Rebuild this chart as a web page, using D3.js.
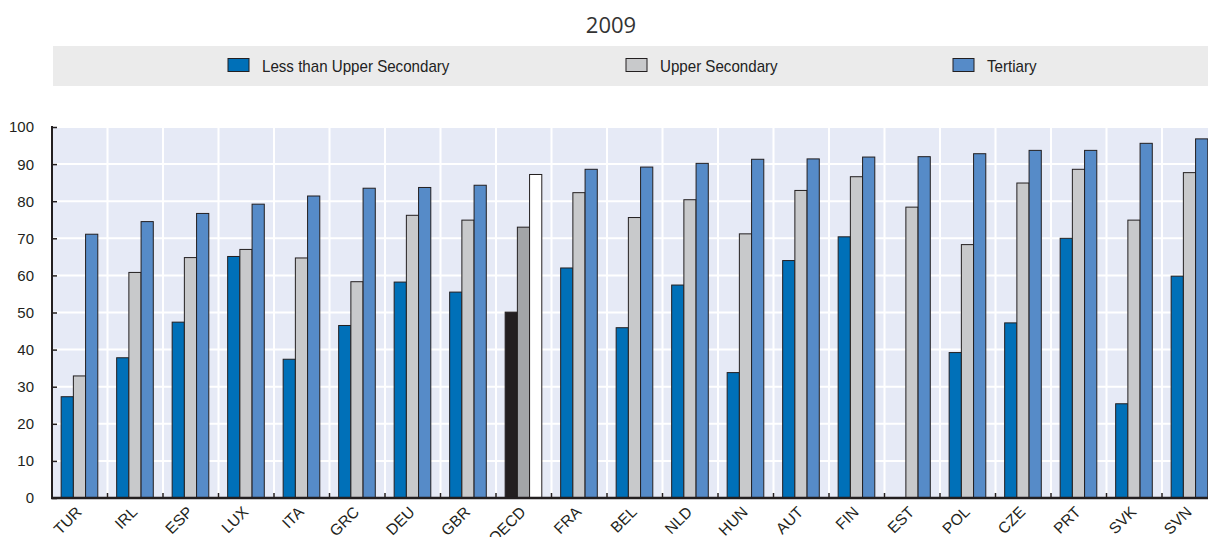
<!DOCTYPE html>
<html>
<head>
<meta charset="utf-8">
<script src="https://cdn.jsdelivr.net/npm/d3@7"></script>
<style>
  html, body { margin: 0; padding: 0; background: #fff; }
  svg { display: block; }
  text { font-family: "Liberation Sans", Arial, Helvetica, sans-serif; fill: #231f20; }
</style>
</head>
<body>
<svg id="chart" width="1208" height="537"></svg>
<script>
const title = "2009";
const categories = ["TUR","IRL","ESP","LUX","ITA","GRC","DEU","GBR","OECD","FRA","BEL","NLD","HUN","AUT","FIN","EST","POL","CZE","PRT","SVK","SVN"];
const seriesNames = ["Less than Upper Secondary","Upper Secondary","Tertiary"];
const lessThanUpperSecondary = [27.3,37.8,47.4,65.1,37.4,46.5,58.2,55.5,50.1,62.0,45.9,57.4,33.8,64.0,70.4,null,39.2,47.2,70.0,25.4,59.8];
const upperSecondary =         [32.9,60.8,64.8,67.0,64.7,58.3,76.2,74.9,73.0,82.3,75.6,80.4,71.2,82.9,86.6,78.4,68.3,84.9,88.6,74.9,87.7];
const tertiary =               [71.1,74.5,76.7,79.2,81.4,83.5,83.7,84.3,87.2,88.6,89.2,90.2,91.3,91.4,91.9,92.0,92.8,93.7,93.7,95.6,96.8];
const yTicks = [0,10,20,30,40,50,60,70,80,90,100];

const seriesValues = [lessThanUpperSecondary, upperSecondary, tertiary];
const colors = ["#0070b8", "#c8c9cb", "#568bc8"];
const highlightColors = ["#231f20", "#a3a5a8", "#ffffff"];
const highlight = "OECD";

const svg = d3.select("#chart");
const plotLeft = 52, plotTop = 127, plotBottom = 498;
const band = 55.5;
const plotRight = plotLeft + band * categories.length;

const x = d3.scaleBand().domain(categories).range([plotLeft, plotRight]).padding(0);
const sub = d3.scaleBand().domain(seriesNames)
  .range([x.bandwidth() * 0.165, x.bandwidth() * 0.825]).padding(0);
const y = d3.scaleLinear().domain([0, 100]).range([plotBottom, plotTop]);

// Title
svg.append("text").attr("x", 611).attr("y", 33).attr("text-anchor", "middle")
  .style("font-family", "'Open Sans', 'Noto Sans', sans-serif").style("font-size", "22px")
  .style("fill", "#333").text(title);

// Legend
svg.append("rect").attr("x", 53).attr("y", 46).attr("width", 1208 - 53).attr("height", 40).attr("fill", "#ebebeb");
const legendX = [228, 626, 953];
seriesNames.forEach((s, i) => {
  svg.append("rect").attr("x", legendX[i]).attr("y", 58.5).attr("width", 21).attr("height", 13)
    .attr("fill", colors[i]).attr("stroke", "#231f20").attr("stroke-width", 1);
  svg.append("text").attr("transform", `translate(${legendX[i] + 34},72) scale(0.89,1)`)
    .style("font-size", "17px").style("fill", "#222").text(s);
});

// Plot background
svg.append("rect").attr("x", plotLeft).attr("y", plotTop).attr("width", plotRight - plotLeft)
  .attr("height", plotBottom - plotTop).attr("fill", "#e6eaf6");

// Grid
svg.append("g").selectAll("line").data(yTicks.filter(d => d > 0)).join("line")
  .attr("x1", plotLeft).attr("x2", plotRight).attr("y1", d => y(d)).attr("y2", d => y(d))
  .attr("stroke", "#fff").attr("stroke-width", 2);
svg.append("g").selectAll("line").data(categories.slice(1)).join("line")
  .attr("x1", d => x(d)).attr("x2", d => x(d)).attr("y1", plotTop).attr("y2", plotBottom)
  .attr("stroke", "#fff").attr("stroke-width", 2);

// Bars
const groups = svg.append("g").selectAll("g").data(categories).join("g")
  .attr("transform", d => `translate(${x(d)},0)`);
groups.each(function(cat, ci) {
  const g = d3.select(this);
  seriesNames.forEach((s, si) => {
    const v = seriesValues[si][ci];
    if (v == null) return;
    g.append("rect")
      .attr("x", sub(s)).attr("width", sub.bandwidth())
      .attr("y", y(v)).attr("height", y(0) - y(v))
      .attr("fill", cat === highlight ? highlightColors[si] : colors[si])
      .attr("stroke", "#231f20").attr("stroke-width", 1);
  });
});

// Y axis
const yAxis = d3.axisRight(y).tickValues(yTicks).tickSize(5).tickFormat("");
const yg = svg.append("g").attr("transform", `translate(${plotLeft},0)`).call(yAxis);
yg.select(".domain").remove();
yg.selectAll(".tick line").attr("stroke", "#231f20").attr("stroke-width", 1.5);
svg.append("line").attr("x1", plotLeft).attr("x2", plotLeft).attr("y1", plotTop - 1).attr("y2", plotBottom + 1)
  .attr("stroke", "#231f20").attr("stroke-width", 2);
svg.append("g").selectAll("text").data(yTicks).join("text")
  .attr("x", 34).attr("y", d => y(d)).attr("dy", "0.36em").attr("text-anchor", "end")
  .style("font-size", "15px").text(d => d);

// X axis
svg.append("g").selectAll("line").data(categories.slice(1)).join("line")
  .attr("x1", d => x(d)).attr("x2", d => x(d)).attr("y1", plotBottom - 5).attr("y2", plotBottom)
  .attr("stroke", "#231f20").attr("stroke-width", 1.5);
svg.append("line").attr("x1", plotLeft - 1).attr("x2", plotRight).attr("y1", plotBottom).attr("y2", plotBottom)
  .attr("stroke", "#231f20").attr("stroke-width", 2.5);
svg.append("g").selectAll("text").data(categories).join("text")
  .attr("transform", d => `translate(${x(d) + x.bandwidth() / 2 + 3},${plotBottom + 15}) rotate(-45)`)
  .attr("text-anchor", "end")
  .style("font-size", "15.5px").text(d => d);
</script>
</body>
</html>
